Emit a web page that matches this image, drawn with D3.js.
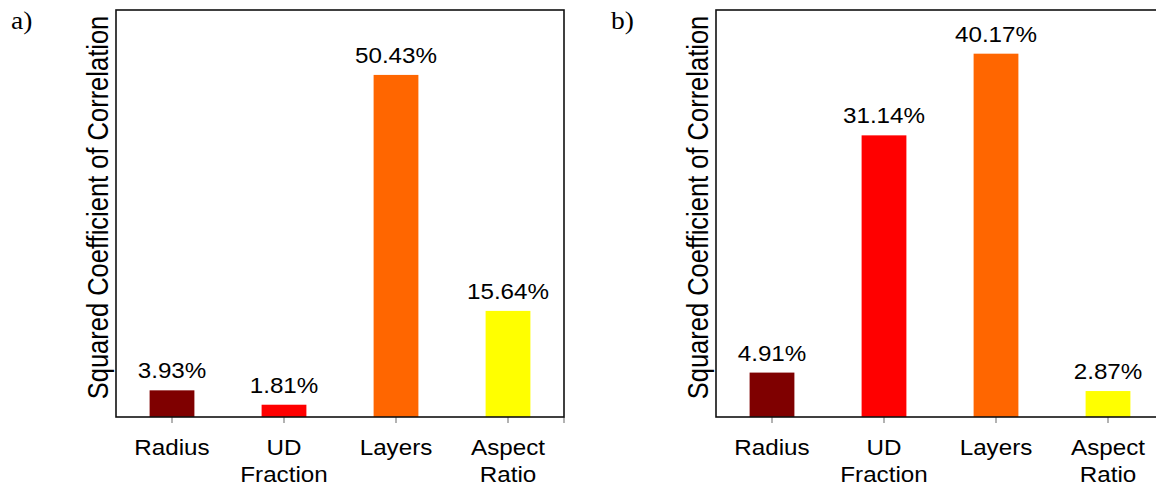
<!DOCTYPE html>
<html><head><meta charset="utf-8">
<script src="https://cdn.jsdelivr.net/npm/d3@7"></script>
<style>body{margin:0;background:#fff}svg{display:block}</style>
</head><body>
<svg id="c" width="1156" height="486"></svg>
<script>
const categories = ["Radius", "UD\nFraction", "Layers", "Aspect\nRatio"];
const colors = ["#7f0000", "#ff0000", "#ff6600", "#ffff00"];
const valuesA = [3.93, 1.81, 50.43, 15.64];
const valuesB = [4.91, 31.14, 40.17, 2.87];
const labelsA = ["3.93%", "1.81%", "50.43%", "15.64%"];
const labelsB = ["4.91%", "31.14%", "40.17%", "2.87%"];
const yMaxA = 60, yMaxB = 45;
const panelTags = ["a)", "b)"];
const yTitle = "Squared Coefficient of Correlation";

const svg = d3.select("#c");
const SX = 1.1; // horizontal stretch of glyphs

function panel(ox, vals, labels, ymax, tag) {
  const left = ox, right = ox + 448, top = 10, bottom = 417;
  const g = svg.append("g");
  const x = d3.scaleBand().domain(categories).range([left, right]).paddingInner(0.6).paddingOuter(0.3);
  const y = d3.scaleLinear().domain([0, ymax]).range([bottom, top]);

  g.selectAll("rect.bar").data(vals).join("rect")
    .attr("x", (d, i) => x(categories[i]))
    .attr("width", x.bandwidth())
    .attr("y", d => y(d))
    .attr("height", d => y(0) - y(d))
    .attr("fill", (d, i) => colors[i]);

  const tx = categories.map(c => x(c) + x.bandwidth() / 2).concat([right]);
  g.selectAll("line.tick").data(tx).join("line")
    .attr("x1", d => d).attr("x2", d => d)
    .attr("y1", bottom).attr("y2", bottom + 6)
    .attr("stroke", "#9a9a9a").attr("stroke-width", 1.5);

  g.append("rect").attr("x", left).attr("y", top).attr("width", right - left).attr("height", bottom - top)
    .attr("fill", "none").attr("stroke", "#111").attr("stroke-width", 1.6);

  vals.forEach((v, i) => {
    const cx = x(categories[i]) + x.bandwidth() / 2;
    g.append("text").attr("transform", `translate(${cx},${y(v) - 12}) scale(${SX},1)`)
      .attr("text-anchor", "middle").attr("font-family", "Liberation Sans, Arial, sans-serif")
      .attr("font-size", 22).attr("fill", "#000").text(labels[i]);
  });

  categories.forEach((c, i) => {
    const cx = x(c) + x.bandwidth() / 2;
    c.split("\n").forEach((ln, j) => {
      g.append("text").attr("transform", `translate(${cx},${455 + j * 27}) scale(${SX},1)`)
        .attr("text-anchor", "middle").attr("font-family", "Liberation Sans, Arial, sans-serif")
        .attr("font-size", 22).attr("fill", "#000").text(ln);
    });
  });

  g.append("text").attr("transform", `translate(${left - 8},${(top + bottom) / 2 - 6}) rotate(-90) scale(1,1.14)`)
    .attr("text-anchor", "middle").attr("font-family", "Liberation Sans, Arial, sans-serif")
    .attr("font-size", 25.5).attr("fill", "#000").text(yTitle);

  g.append("text").attr("transform", `translate(${left - 105},${29}) scale(${SX},1)`)
    .attr("font-family", "Liberation Serif, Times New Roman, serif")
    .attr("font-size", 25).attr("fill", "#000").text(tag);
}

panel(116, valuesA, labelsA, yMaxA, panelTags[0]);
panel(716, valuesB, labelsB, yMaxB, panelTags[1]);
</script>
</body></html>
